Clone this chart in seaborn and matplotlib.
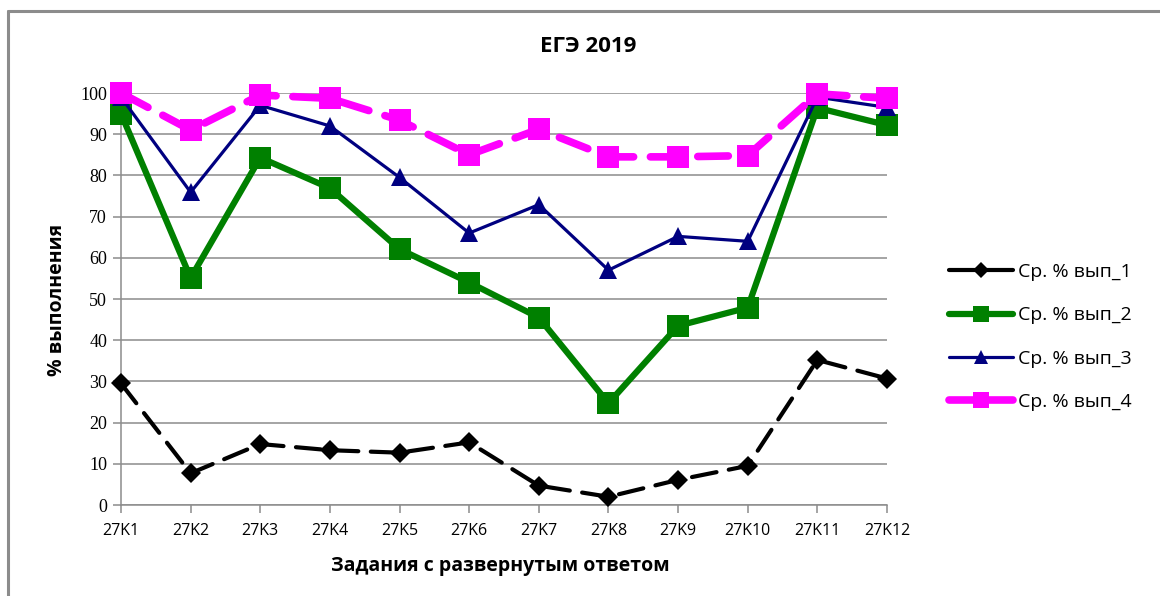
import pandas as pd
import seaborn as sns
import matplotlib.pyplot as plt
from matplotlib.lines import Line2D

# data
tasks = ["27K1", "27K2", "27K3", "27K4", "27K5", "27K6",
         "27K7", "27K8", "27K9", "27K10", "27K11", "27K12"]
vyp_1 = [29.5, 7.7, 14.8, 13.3, 12.7, 15.2, 4.7, 2.0, 6.1, 9.5, 35.2, 30.7]
vyp_2 = [95.0, 55.1, 84.3, 76.9, 62.1, 54.0, 45.5, 24.7, 43.5, 47.9, 96.4, 92.2]
vyp_3 = [99.0, 75.9, 97.0, 92.0, 79.5, 66.0, 72.9, 57.0, 65.2, 64.0, 99.0, 96.5]
vyp_4 = [100.0, 91.0, 99.5, 98.7, 93.4, 85.0, 91.2, 84.5, 84.5, 84.8, 99.8, 98.7]
names = ["Ср. % вып_1", "Ср. % вып_2", "Ср. % вып_3", "Ср. % вып_4"]

styles = {
    names[0]: dict(color="black", marker="D", markersize=10.5, linewidth=3.0,
                   dashes=(6, 3)),
    names[1]: dict(color="#008000", marker="s", markersize=16, linewidth=4.5,
                   dashes=None),
    names[2]: dict(color="#000080", marker="^", markersize=13, linewidth=2.3,
                   dashes=None),
    names[3]: dict(color="#FF00FF", marker="s", markersize=16, linewidth=5.5,
                   dashes=(4, 2.2)),
}

def main():
    rows = []
    for name, vals in zip(names, [vyp_1, vyp_2, vyp_3, vyp_4]):
        for i, (t, v) in enumerate(zip(tasks, vals)):
            rows.append({"task": t, "pos": i, "value": v, "series": name})
    df = pd.DataFrame(rows)

    sns.set_theme(style="white")
    # y tick labels in the reference are serif; everything else names its family
    plt.rcParams["font.family"] = ["Liberation Serif", "DejaVu Serif"]
    plt.rcParams["text.color"] = "black"
    plt.rcParams["ytick.color"] = "black"
    plt.rcParams["xtick.color"] = "black"
    fig = plt.figure(figsize=(11.6, 5.96), dpi=100)
    ax = fig.add_axes([121 / 1160, 1 - 505 / 596, (887 - 121) / 1160, (505 - 93) / 596])

    # outer chart frame (Excel border)
    fig.add_artist(Line2D([8 / 1160, 1.0], [1 - 11 / 596, 1 - 11 / 596],
                          color="#8c8c8c", linewidth=2.2, transform=fig.transFigure))
    fig.add_artist(Line2D([8 / 1160, 8 / 1160], [0, 1 - 11 / 596],
                          color="#8c8c8c", linewidth=2.2, transform=fig.transFigure))

    handles = []
    for z, name in enumerate(names):
        st = styles[name]
        sub = df[df["series"] == name]
        sns.lineplot(data=sub, x="pos", y="value", ax=ax, color=st["color"],
                     linewidth=st["linewidth"], marker=st["marker"],
                     markersize=st["markersize"], markeredgewidth=0,
                     zorder=3 + z, clip_on=False, legend=False)
        ln = ax.lines[-1]
        if st["dashes"] is not None:
            ln.set_dashes(st["dashes"])
            ln.set_dash_capstyle("round")
        handles.append(Line2D([0], [0], color=st["color"], linewidth=st["linewidth"],
                              marker=st["marker"], markersize=st["markersize"] * 0.75,
                              markeredgewidth=0, solid_capstyle="round",
                              linestyle="-", label=name))

    ax.tick_params(axis="both", which="major", length=6, width=1.1,
                   color="#8c8c8c", labelcolor="black", direction="out",
                   left=True, bottom=True, pad=4)
    ax.tick_params(axis="x", pad=7)
    ax.set_xlim(0, len(tasks) - 1)
    ax.set_ylim(0, 100)
    yt = list(range(0, 101, 10))
    ax.set_yticks(yt)
    ax.set_yticklabels([str(v) for v in yt], fontsize=13)
    ax.set_xticks(range(len(tasks)))
    ax.set_xticklabels(tasks, family="Open Sans", fontsize=11.5)
    ax.grid(axis="y", color="#8c8c8c", linewidth=1.1)
    ax.grid(axis="x", visible=False)
    for side in ["top", "right"]:
        ax.spines[side].set_visible(False)
    for side in ["left", "bottom"]:
        ax.spines[side].set_color("#8c8c8c")
        ax.spines[side].set_linewidth(1.1)

    ax.set_xlabel("")
    ax.set_ylabel("")
    fig.text(500 / 1160, 1 - 566 / 596, "Задания с развернутым ответом",
             ha="center", va="center", fontsize=14, fontweight="bold",
             family="Open Sans")
    fig.text(57 / 1160, 1 - 300 / 596, "% выполнения", rotation=90,
             ha="center", va="center", fontsize=14, fontweight="bold",
             family="Open Sans")
    fig.text(588 / 1160, 1 - 47 / 596, "ЕГЭ 2019", ha="center", va="center",
             fontsize=16, fontweight="bold", family="Open Sans")

    fig.legend(handles=handles, loc="center left",
               bbox_to_anchor=(931 / 1160, 1 - 337 / 596), frameon=False,
               prop={"family": "Open Sans", "size": 14},
               handlelength=3.3, handletextpad=0.3, labelspacing=1.3)

    fig.savefig("out.png", dpi=100)

if __name__ == "__main__":
    main()
